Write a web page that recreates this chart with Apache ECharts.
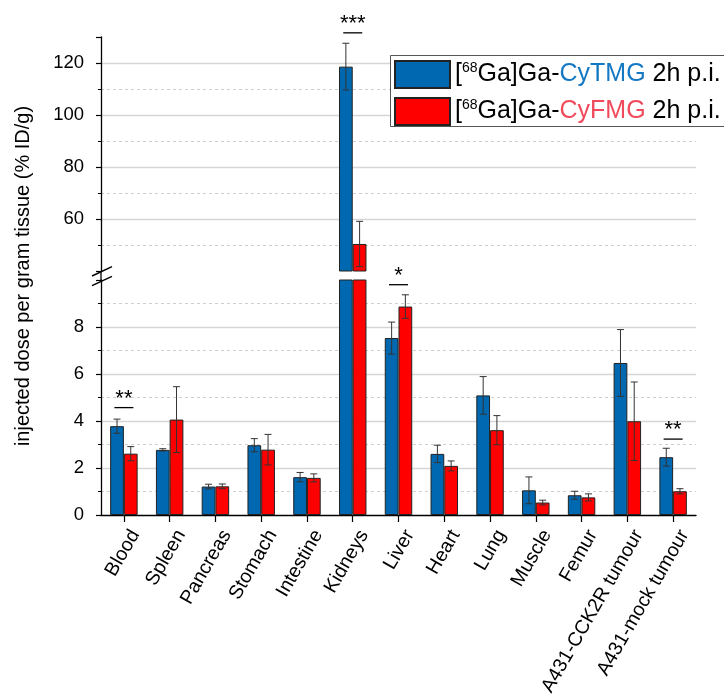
<!DOCTYPE html>
<html>
<head>
<meta charset="utf-8">
<script src="https://cdn.jsdelivr.net/npm/echarts@6/dist/echarts.min.js"></script>
<style>html,body{margin:0;padding:0;background:#fff;}#c{width:724px;height:695px;}</style>
</head>
<body>
<div id="c"></div>
<script>
const categories = ['Blood','Spleen','Pancreas','Stomach','Intestine','Kidneys','Liver','Heart','Lung','Muscle','Femur','A431-CCK2R tumour','A431-mock tumour'];
const tmgMean = [3.78, 2.77, 1.21, 2.97, 1.61, 118.6, 7.53, 2.60, 5.09, 1.05, 0.84, 6.47, 2.46];
const tmgErr  = [0.30, 0.05, 0.10, 0.28, 0.20, 9.0, 0.68, 0.37, 0.80, 0.57, 0.17, 1.42, 0.38];
const fmgMean = [2.61, 4.06, 1.22, 2.78, 1.58, 50.4, 8.87, 2.09, 3.61, 0.53, 0.75, 3.99, 1.01];
const fmgErr  = [0.30, 1.40, 0.10, 0.65, 0.17, 8.7, 0.50, 0.21, 0.62, 0.10, 0.15, 1.67, 0.11];
const seriesNames = ['[68Ga]Ga-CyTMG 2h p.i.', '[68Ga]Ga-CyFMG 2h p.i.'];
const upperRange = [40, 130];
const lowerRange = [0, 10];
const upperTicks = [60, 80, 100, 120];
const lowerTicks = [0, 2, 4, 6, 8];
const sigCats   = ['Blood', 'Kidneys', 'Liver', 'A431-mock tumour'];
const sigLevels = [4.57, 131.6, 9.8, 3.23];
const sigMarks  = ['**', '***', '*', '**'];
const sigPanel  = ['lower', 'upper', 'lower', 'lower'];

const BLUE = '#0068B0', RED = '#FF0000';
const FONT = '"Liberation Sans", Arial, sans-serif';
const chart = echarts.init(document.getElementById('c'), null, {renderer: 'canvas'});

function yPair(gridIndex, range, ticks, majorInt, minorInt) {
  return [{
    type: 'value', gridIndex, position: 'left', min: range[0], max: range[1], interval: majorInt,
    axisLine: {show: true, lineStyle: {color: '#000', width: 1.3}},
    axisTick: {show: true, inside: false, length: 5, lineStyle: {color: '#000', width: 1.2}},
    axisLabel: {color: '#000', fontSize: 18.5, fontFamily: FONT, margin: 17,
      formatter: v => ticks.indexOf(v) >= 0 ? String(v) : ''},
    splitLine: {show: true, showMinLine: false, showMaxLine: false, lineStyle: {color: '#d6d6d6', width: 1.3}}
  }, {
    type: 'value', gridIndex, position: 'left', min: range[0], max: range[1], interval: minorInt,
    axisLine: {show: false},
    axisTick: {show: true, inside: false, length: 3, lineStyle: {color: '#000', width: 1}},
    axisLabel: {show: false},
    splitLine: {show: true, showMaxLine: false, lineStyle: {color: ['transparent', '#cfcfcf'], type: [3, 3], width: 1}}
  }];
}

function errSeries(name, xi, yi, mean, err, sign) {
  return {
    type: 'custom', name: name + ' err', xAxisIndex: xi, yAxisIndex: yi, clip: true, z: 5,
    data: categories.map((c, i) => [i, mean[i], err[i]]),
    renderItem: function (params, api) {
      const i = api.value(0), v = api.value(1), e = api.value(2);
      const band = api.size([1, 0])[0];
      const off = sign * band * 0.15;
      const t = api.coord([i, v + e]), b = api.coord([i, v - e]);
      const x = t[0] + off, cap = 3.5;
      const st = {stroke: '#333', lineWidth: 1};
      return {type: 'group', children: [
        {type: 'line', shape: {x1: x, y1: t[1], x2: x, y2: b[1]}, style: st},
        {type: 'line', shape: {x1: x - cap, y1: t[1], x2: x + cap, y2: t[1]}, style: st},
        {type: 'line', shape: {x1: x - cap, y1: b[1], x2: x + cap, y2: b[1]}, style: st}
      ]};
    }
  };
}

function sigSeries(panel, xi, yi) {
  const data = [];
  sigCats.forEach((c, k) => { if (sigPanel[k] === panel) data.push([categories.indexOf(c), sigLevels[k], sigMarks[k]]); });
  return {
    type: 'custom', xAxisIndex: xi, yAxisIndex: yi, clip: false, z: 6, silent: true,
    data,
    renderItem: function (params, api) {
      const p = api.coord([api.value(0), api.value(1)]);
      const mark = data[params.dataIndex][2];
      return {type: 'group', children: [
        {type: 'line', shape: {x1: p[0] - 9.5, y1: p[1], x2: p[0] + 9.5, y2: p[1]}, style: {stroke: '#000', lineWidth: 1.3}},
        {type: 'text', style: {x: p[0], y: p[1] + 2, text: mark, textAlign: 'center', textVerticalAlign: 'bottom',
          font: '22px ' + FONT, fill: '#000'}}
      ]};
    }
  };
}

const barStyle = c => ({color: c, borderColor: '#222', borderWidth: 1});
const legendRich = {
  b: {fontSize: 25, fontFamily: FONT, color: '#000', lineHeight: 27},
  sup: {fontSize: 14, fontFamily: FONT, color: '#000', verticalAlign: 'top', lineHeight: 27, padding: [0, 0, 8, 0]},
  blue: {fontSize: 25, fontFamily: FONT, color: '#1478C3', lineHeight: 27},
  red: {fontSize: 25, fontFamily: FONT, color: '#F04A5C', lineHeight: 27}
};

const option = {
  animation: false,
  backgroundColor: '#fff',
  grid: [
    {left: 101, top: 37, width: 595, height: 234, containLabel: false, outerBoundsMode: 'none'},
    {left: 101, top: 280, width: 595, height: 235, containLabel: false, outerBoundsMode: 'none'}
  ],
  xAxis: [
    {type: 'category', gridIndex: 0, data: categories, axisLine: {show: false}, axisTick: {show: false}, axisLabel: {show: false}, splitLine: {show: false}},
    {type: 'category', gridIndex: 1, data: categories,
      axisLine: {show: true, lineStyle: {color: '#000', width: 1.3}},
      axisTick: {show: true, alignWithLabel: true, length: 7, lineStyle: {color: '#000', width: 1.2}},
      axisLabel: {color: '#000', fontSize: 19.5, fontFamily: FONT, rotate: 60, margin: 10, interval: 0,
        verticalAlign: 'top', padding: [3, 0, 0, 0]}}
  ],
  yAxis: [].concat(yPair(0, upperRange, upperTicks, 20, 10), yPair(1, lowerRange, lowerTicks, 2, 1)),
  legend: {
    orient: 'vertical', left: 390, top: 55, padding: [5, 4, 4, 4], itemGap: 8,
    itemWidth: 55, itemHeight: 27, icon: 'rect',
    borderWidth: 0, backgroundColor: 'transparent',
    data: seriesNames,
    formatter: function (n) {
      const prod = n.split('-')[1].split(' ')[0];
      const rest = n.slice(n.indexOf(prod) + prod.length);
      const cls = n === seriesNames[0] ? 'blue' : 'red';
      return '{b|[}{sup|68}{b|Ga]Ga-}{' + cls + '|' + prod + '}{b|' + rest + '}';
    },
    textStyle: {rich: legendRich, fontSize: 25, fontFamily: FONT}
  },
  series: [
    {type: 'bar', name: seriesNames[0], xAxisIndex: 0, yAxisIndex: 0, barGap: '0%', barCategoryGap: '40%',
      data: tmgMean.map(v => v > upperRange[0] ? v : '-'), itemStyle: barStyle(BLUE)},
    {type: 'bar', name: seriesNames[1], xAxisIndex: 0, yAxisIndex: 0, barGap: '0%', barCategoryGap: '40%',
      data: fmgMean.map(v => v > upperRange[0] ? v : '-'), itemStyle: barStyle(RED)},
    {type: 'bar', name: seriesNames[0], xAxisIndex: 1, yAxisIndex: 2, barGap: '0%', barCategoryGap: '40%',
      data: tmgMean, itemStyle: barStyle(BLUE)},
    {type: 'bar', name: seriesNames[1], xAxisIndex: 1, yAxisIndex: 2, barGap: '0%', barCategoryGap: '40%',
      data: fmgMean, itemStyle: barStyle(RED)},
    errSeries('tmgU', 0, 0, tmgMean, tmgErr, -1),
    errSeries('fmgU', 0, 0, fmgMean, fmgErr, 1),
    errSeries('tmgL', 1, 2, tmgMean, tmgErr, -1),
    errSeries('fmgL', 1, 2, fmgMean, fmgErr, 1),
    sigSeries('upper', 0, 0),
    sigSeries('lower', 1, 2)
  ],
  graphic: [
    {type: 'rect', z: 3, shape: {x: 390.5, y: 55.5, width: 360, height: 71},
      style: {fill: '#fff', stroke: '#555', lineWidth: 1}},
    {type: 'text', x: 23, y: 276, rotation: Math.PI / 2,
      style: {text: 'injected dose per gram tissue (% ID/g)', font: '20px ' + FONT, fill: '#000', textAlign: 'center', textVerticalAlign: 'middle'}},
    {type: 'line', shape: {x1: 101, y1: 271, x2: 101, y2: 280}, style: {stroke: '#000', lineWidth: 1.3}},
    {type: 'line', shape: {x1: 92, y1: 276, x2: 112, y2: 266.7}, style: {stroke: '#000', lineWidth: 1.4}},
    {type: 'line', shape: {x1: 92, y1: 285.7, x2: 112, y2: 276.4}, style: {stroke: '#000', lineWidth: 1.4}}
  ]
};
chart.setOption(option);
</script>
</body>
</html>
